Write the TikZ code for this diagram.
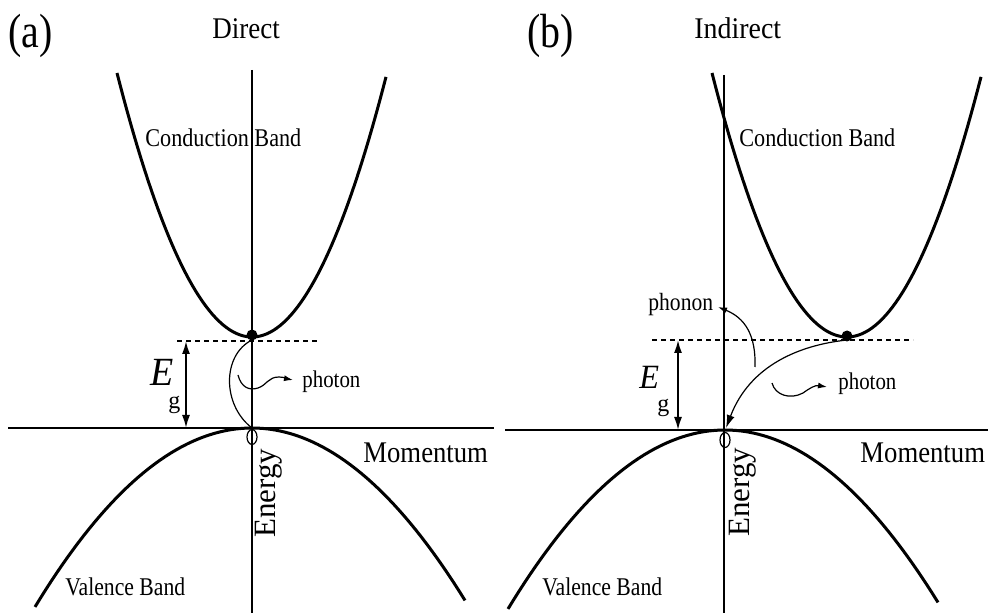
\documentclass[tikz,border=0pt]{standalone}
\usepackage{fontspec}
\setmainfont{Liberation Serif}
\usepackage{graphicx}
\usetikzlibrary{arrows.meta,shapes.geometric}
\newcommand\hsq[2]{\scalebox{#1}[1]{#2}}
\begin{document}
\begin{tikzpicture}[x=0.5pt,y=-0.5pt,
  band/.style={line width=1.5pt},
  axis/.style={line width=0.9pt},
  wire/.style={line width=0.6pt},
  lvl/.style={line width=0.7pt, dash pattern=on 2.5pt off 2pt},
  lbl/.style={inner sep=0pt, anchor=base west},
  bigtip/.style={-{Latex[length=6.5pt,width=4pt]}},
  dbltip/.style={{Latex[length=6.5pt,width=4pt]}-{Latex[length=6.5pt,width=4pt]}},
  smalltip/.style={-{Latex[length=4.5pt,width=3pt]}},
  dot/.style={circle, fill=black, inner sep=0pt, minimum size=5.5pt},
  hole/.style={ellipse, draw, line width=0.6pt, inner sep=0pt, minimum width=5pt, minimum height=7.5pt}
]
\useasboundingbox (0,0) rectangle (988,613);

% ================= (a) Direct =================
\node[lbl, font=\fontsize{24}{24}\selectfont] (la) at (8,48) {\hsq{0.83}{(a)}};
\node[lbl, font=\fontsize{15}{15}\selectfont] (ta) at (212,39) {\hsq{0.9}{Direct}};

\coordinate (aTop) at (252,70);
\coordinate (aBot) at (252,613);
\coordinate (aL) at (8,428);
\coordinate (aR) at (494,428);
\draw[axis] (aTop) -- (aBot);
\draw[axis] (aL) -- (aR);

\draw[band] plot[domain=117:386, samples=80] (\x,{337-144.86*((\x-252)/100)^2});
\draw[band] plot[domain=35:465, samples=80] (\x,{428+38*((\x-252)/100)^2});

\coordinate (aDL) at (177,341);
\coordinate (aDR) at (320,341);
\draw[lvl] (aDL) -- (aDR);

\coordinate (aEt) at (186,341);
\coordinate (aEb) at (186,428);
\draw[axis, dbltip] (aEt) -- (aEb);

\node[dot] (ae) at (252,335) {};
\node[hole] (ah) at (252,437) {};

\coordinate (aC1) at (252,340);
\coordinate (aC2) at (252,428);
\draw[wire] (aC1) .. controls (222,355) and (222,405) .. (aC2);

\coordinate (aP0) at (238,375);
\coordinate (aP1) at (293,380);
\draw[wire, smalltip] (aP0) .. controls (241,387) and (249,391) .. (258,388)
  .. controls (267,385) and (268,377) .. (279,377) .. controls (284,377) and (288,379) .. (aP1);

\node[lbl, font=\fontsize{12}{12}\selectfont] (pha) at (302,388) {\hsq{0.87}{photon}};
\node[lbl, font=\fontsize{20}{20}\selectfont] (Ea) at (150,386) {\hsq{0.95}{\textit{E}}};
\node[lbl, font=\fontsize{12}{12}\selectfont] (ga) at (168,409) {g};

\node[lbl, font=\fontsize{12.75}{12.75}\selectfont] (cba) at (145,147) {\hsq{0.87}{Conduction Band}};
\node[lbl, font=\fontsize{12.75}{12.75}\selectfont] (vba) at (65,595) {\hsq{0.85}{Valence Band}};
\node[lbl, font=\fontsize{15}{15}\selectfont] (ma) at (363,462) {\hsq{0.89}{Momentum}};
\node[lbl, font=\fontsize{15.5}{15.5}\selectfont, rotate=90] (ena) at (275,538) {Energy};

% ================= (b) Indirect =================
\node[lbl, font=\fontsize{24}{24}\selectfont] (lb) at (527,48) {\hsq{0.83}{(b)}};
\node[lbl, font=\fontsize{15}{15}\selectfont] (tb) at (694,39) {\hsq{0.93}{Indirect}};

\coordinate (bTop) at (724,75);
\coordinate (bBot) at (724,613);
\coordinate (bL) at (505,430);
\coordinate (bR) at (988,430);
\draw[axis] (bTop) -- (bBot);
\draw[axis] (bL) -- (bR);

\draw[band] plot[domain=712:981, samples=80] (\x,{337-144.86*((\x-847)/100)^2});
\draw[band] plot[domain=508:938, samples=80] (\x,{430+38*((\x-725)/100)^2});

\coordinate (bDL) at (652,340);
\coordinate (bDR) at (913,340);
\draw[lvl] (bDL) -- (bDR);

\coordinate (bEt) at (678,340);
\coordinate (bEb) at (678,430);
\draw[axis, dbltip] (bEt) -- (bEb);

\node[dot] (be) at (847,336) {};
\node[hole] (bh) at (725,440) {};

\coordinate (bA0) at (847,340);
\coordinate (bA1) at (726,428);
\draw[wire, bigtip] (bA0) .. controls (800,345) and (750,365) .. (bA1);

\coordinate (bN0) at (755,367);
\coordinate (bN1) at (718,307);
\draw[wire, smalltip] (bN0) .. controls (756,335) and (745,318) .. (bN1);

\coordinate (bP0) at (772,383);
\coordinate (bP1) at (827,387);
\draw[wire, smalltip] (bP0) .. controls (775,395) and (790,400) .. (803,393)
  .. controls (810,388) and (815,385) .. (bP1);

\node[lbl, font=\fontsize{12}{12}\selectfont] (phb) at (838,390) {\hsq{0.87}{photon}};
\node[lbl, font=\fontsize{12.4}{12.4}\selectfont] (pnb) at (648,311) {\hsq{0.87}{phonon}};
\node[lbl, font=\fontsize{17}{17}\selectfont] (Eb) at (639,389) {\hsq{0.95}{\textit{E}}};
\node[lbl, font=\fontsize{12}{12}\selectfont] (gb) at (657,412) {g};

\node[lbl, font=\fontsize{12.75}{12.75}\selectfont] (cbb) at (739,147) {\hsq{0.87}{Conduction Band}};
\node[lbl, font=\fontsize{12.75}{12.75}\selectfont] (vbb) at (542,595) {\hsq{0.85}{Valence Band}};
\node[lbl, font=\fontsize{15}{15}\selectfont] (mb) at (860,462) {\hsq{0.89}{Momentum}};
\node[lbl, font=\fontsize{15.5}{15.5}\selectfont, rotate=90] (enb) at (749,537) {Energy};
\end{tikzpicture}
\end{document}
